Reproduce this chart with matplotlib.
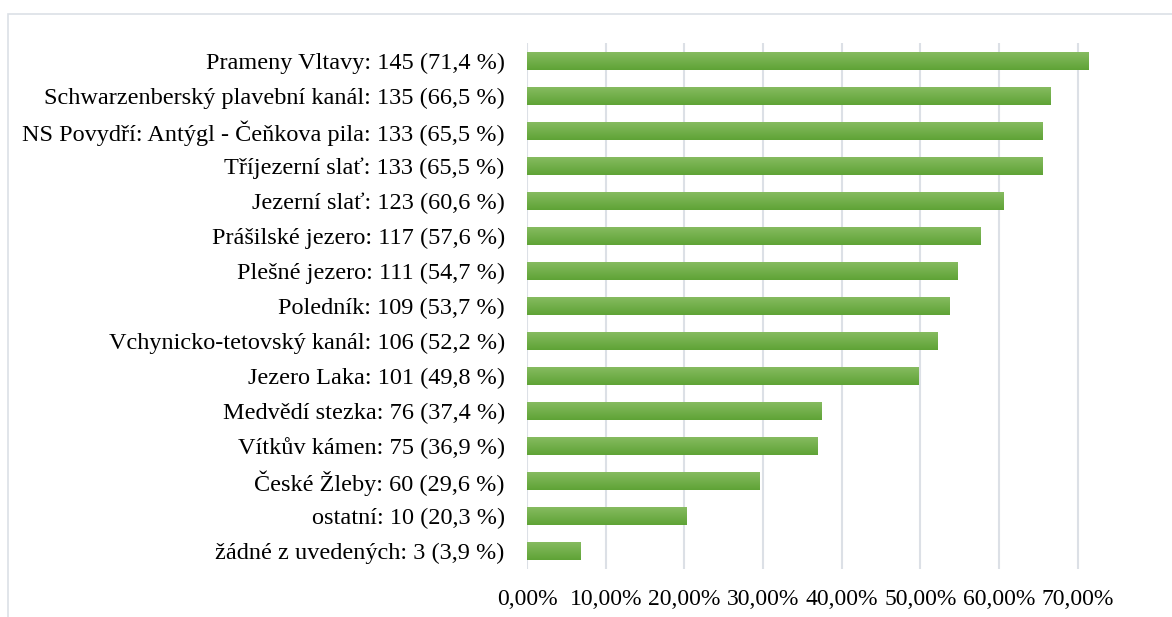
import matplotlib.pyplot as plt
import numpy as np
from matplotlib.patches import Rectangle
from matplotlib.ticker import FuncFormatter

plt.rcParams['font.family'] = ['Liberation Serif', 'DejaVu Serif']

labels = [
    "Prameny Vltavy: 145 (71,4 %)",
    "Schwarzenberský plavební kanál: 135 (66,5 %)",
    "NS Povydří: Antýgl - Čeňkova pila: 133 (65,5 %)",
    "Tříjezerní slať: 133 (65,5 %)",
    "Jezerní slať: 123 (60,6 %)",
    "Prášilské jezero: 117 (57,6 %)",
    "Plešné jezero: 111 (54,7 %)",
    "Poledník: 109 (53,7 %)",
    "Vchynicko-tetovský kanál: 106 (52,2 %)",
    "Jezero Laka: 101 (49,8 %)",
    "Medvědí stezka: 76 (37,4 %)",
    "Vítkův kámen: 75 (36,9 %)",
    "České Žleby: 60 (29,6 %)",
    "ostatní: 10 (20,3 %)",
    "žádné z uvedených: 3 (3,9 %)",
]
# bar lengths as drawn in the picture (share of respondents)
values = [0.714, 0.665, 0.655, 0.655, 0.606, 0.576, 0.547, 0.537,
          0.522, 0.498, 0.374, 0.369, 0.296, 0.203, 0.068]
ticks = [0.0, 0.1, 0.2, 0.3, 0.4, 0.5, 0.6, 0.7]

fig = plt.figure(figsize=(11.72, 6.17), dpi=100)
ax = fig.add_axes([0.4497, 0.0786, 0.4966, 0.8509])

y = np.arange(len(labels))[::-1]
bars = ax.barh(y, values, height=0.49, color='#70ad47', zorder=2)

# vertical gradient inside every bar
grad = np.linspace(0, 1, 64).reshape(-1, 1)
cmap = plt.matplotlib.colors.LinearSegmentedColormap.from_list('g', ['#86bb60', '#5fa336'])
for b in bars:
    x0, y0, w, h = b.get_x(), b.get_y(), b.get_width(), b.get_height()
    im = ax.imshow(grad, cmap=cmap, aspect='auto', extent=[x0, x0 + w, y0, y0 + h],
                   origin='upper', zorder=3, interpolation='bilinear')
    im.set_clip_path(b)

ax.set_xlim(0, 0.74)
ax.set_ylim(-0.5, len(labels) - 0.5)
ax.set_yticks(y)
ax.set_yticklabels(labels, fontsize=17.5)
ax.set_xticks(ticks)
ax.xaxis.set_major_formatter(FuncFormatter(lambda v, p: f"{v*100:.2f}%".replace('.', ',')))
ax.tick_params(axis='x', labelsize=17, length=0, pad=15)
ax.tick_params(axis='y', length=0, pad=16)
ax.grid(axis='x', color='#dce0e6', linewidth=1.5, zorder=0)
for s in ax.spines.values():
    s.set_visible(False)

# outer chart frame
fig.patches.append(Rectangle((8 / 1172, -0.1), 1.2, 1 - 14 / 617 + 0.1, transform=fig.transFigure,
                             fill=False, edgecolor='#dce0e6', linewidth=1.2))

fig.savefig('out.png', dpi=100)
